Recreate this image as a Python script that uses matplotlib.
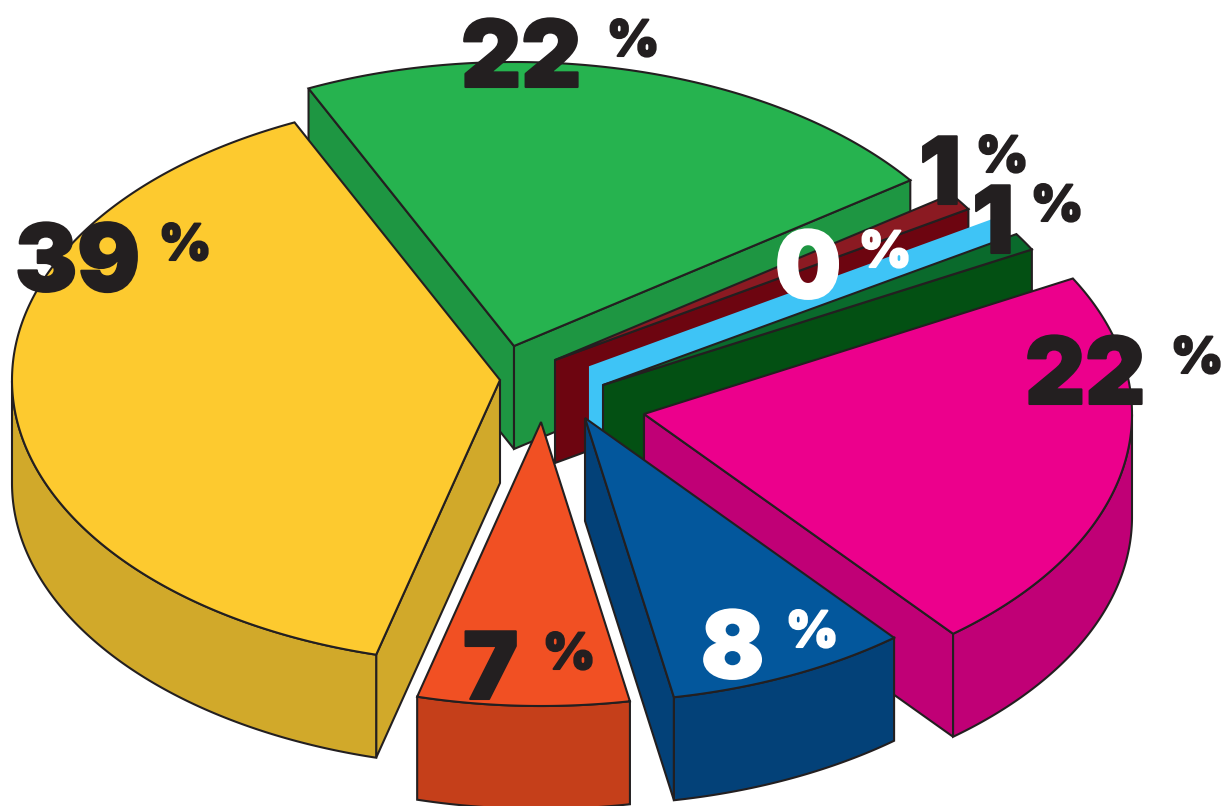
import numpy as np
import matplotlib
matplotlib.use("Agg")
import matplotlib.pyplot as plt
from matplotlib.patches import Polygon
import matplotlib.patheffects as pe

# Slices clockwise from the back left, back-most first so later ones paint over
values = [22, 1, 0, 1, 22, 8, 7, 39]
labels = ["22", "1", "0", "1", "22", "8", "7", "39"]

top_colors = ["#26B34F", "#8B1A22", "#3EC4F6", "#0A6A2C", "#EC008C", "#03579C", "#F15023", "#FDCA2F"]
side_colors = ["#1E9642", "#6D0510", "#3EC4F6", "#035013", "#C00076", "#034178", "#C53F1A", "#D1A92A"]
label_colors = ["#231F20", "#231F20", "#FFFFFF", "#231F20", "#231F20", "#FFFFFF", "#231F20", "#231F20"]

# Exploded position of each slice tip, in pixels
tip_x = [514, 555, 590, 603, 644, 585, 541, 500]
tip_y = [346, 360, 367, 385, 414, 418, 422, 380]

# Left end / baseline of the number, then of the percent sign
num_x = [461, 919, 775, 972, 1025, 701, 463, 15]
num_y = [87, 204, 298, 253, 404, 678, 699, 291]
pct_x = [607, 976, 859, 1031, 1171, 786, 543, 159]
pct_y = [56, 172, 267, 221, 373, 647, 669, 260]

RX, RY = 488, 284
DEPTH = 103
START = 114.9
LINE = "#231F20"
LW = 1.5


def arc(tx, ty, t):
    r = np.radians(t)
    return np.column_stack([tx + RX * np.cos(r), ty - RY * np.sin(r)])


def shape(ax, pts, color, edge=LINE, lw=LW):
    ax.add_patch(Polygon(pts, closed=True, facecolor=color, edgecolor=edge,
                         linewidth=lw, joinstyle="miter"))


def radial_face(ax, tx, ty, t, color, edge=LINE):
    end = arc(tx, ty, np.array([t]))[0]
    pts = [(tx, ty), end, (end[0], end[1] + DEPTH), (tx, ty + DEPTH)]
    shape(ax, pts, color, edge)


fig = plt.figure(figsize=(12.25, 8.06), dpi=100)
ax = fig.add_axes([0, 0, 1, 1])
ax.set_xlim(0, 1225)
ax.set_ylim(806, 0)
ax.axis("off")

angle = START
for i, v in enumerate(values):
    t0 = angle
    t1 = angle - v * 3.6
    angle = t1
    tx, ty = tip_x[i], tip_y[i]
    edge = LINE if v > 0 else side_colors[i]

    # Only the cut faces turned towards the viewer show
    if np.cos(np.radians(t0)) < 0:
        radial_face(ax, tx, ty, t0, side_colors[i], edge)
    if np.cos(np.radians(t1)) > 0:
        radial_face(ax, tx, ty, t1, side_colors[i], edge)

    ts = np.linspace(t0, t1, 300)
    low = ts[np.sin(np.radians(ts)) <= 0]
    if len(low) > 1:
        rim = arc(tx, ty, low)
        shape(ax, np.vstack([rim, rim[::-1] + [0, DEPTH]]), side_colors[i])

    if v > 0:
        shape(ax, np.vstack([[tx, ty], arc(tx, ty, ts)]), top_colors[i])

for i, lab in enumerate(labels):
    c = label_colors[i]
    ax.text(num_x[i], num_y[i], lab, fontsize=67, fontweight=900, color=c,
            family="Inter", ha="left", va="baseline",
            path_effects=[pe.withStroke(linewidth=1.5, foreground=c)])
    ax.text(pct_x[i], pct_y[i], "%", fontsize=36, fontweight=900, color=c,
            family="Inter", ha="left", va="baseline",
            path_effects=[pe.withStroke(linewidth=1.5, foreground=c)])

fig.savefig("out.png", dpi=100, facecolor="white")
